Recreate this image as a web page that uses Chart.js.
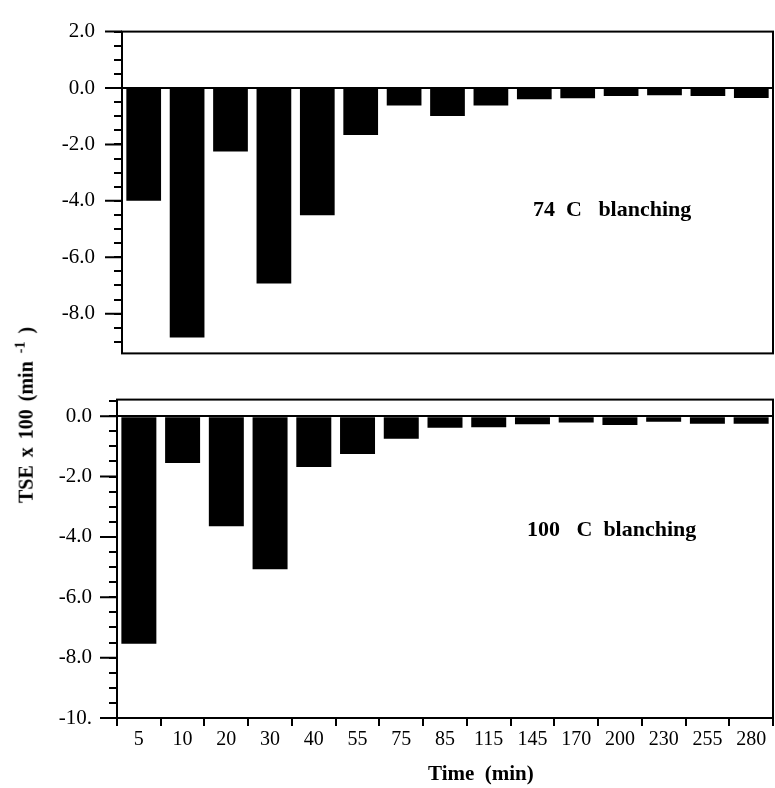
<!DOCTYPE html>
<html>
<head>
<meta charset="utf-8">
<script src="https://cdn.jsdelivr.net/npm/chart.js@4.4.1/dist/chart.umd.min.js"></script>
<style>
    html, body { margin: 0; padding: 0; background: #fff; }
    body { width: 775px; height: 788px; position: relative; overflow: hidden; }
    #wrap-top { position: absolute; left: 0; top: 0; }
    #wrap-bottom { position: absolute; left: 0; top: 370px; }
    #y-title {
        position: absolute; left: 25px; top: 415px;
        transform: translate(-50%, -50%) rotate(-90deg);
        font: bold 20px 'Liberation Serif', serif;
        white-space: nowrap; word-spacing: 3px; color: #000;
    }
    #y-title sup { font-size: 14px; }
</style>
</head>
<body>
<div id="wrap-top"><canvas id="chart-74" width="775" height="385"></canvas></div>
<div id="wrap-bottom"><canvas id="chart-100" width="775" height="418"></canvas></div>
<div id="y-title">TSE x 100 (min <sup>-1</sup> )</div>
<script>
// sampling times (min)
const timeLabels = ['5', '10', '20', '30', '40', '55', '75', '85', '115', '145', '170', '200', '230', '255', '280'];
// TSE x 100 (min^-1), 74 C blanching
const tse74 = [-4.0, -8.85, -2.25, -6.93, -4.51, -1.67, -0.62, -0.99, -0.62, -0.40, -0.36, -0.28, -0.26, -0.28, -0.35];
// TSE x 100 (min^-1), 100 C blanching
const tse100 = [-7.54, -1.55, -3.65, -5.07, -1.68, -1.25, -0.75, -0.38, -0.37, -0.27, -0.21, -0.29, -0.18, -0.25, -0.25];
const majorStep = 2;
const minorStep = 0.5;

const serif = "'Liberation Serif', 'Times New Roman', serif";

function tickText(v) {
    if (Math.abs(v % majorStep) > 1e-6) return '';
    if (v <= -10) return v.toFixed(0) + '.';
    return v.toFixed(1);
}

const framePlugin = {
    id: 'frame',
    afterDraw(chart, args, opts) {
        const ctx = chart.ctx;
        const a = chart.chartArea;
        const y = chart.scales.y;
        ctx.save();
        ctx.strokeStyle = '#000';
        ctx.lineWidth = 2;
        ctx.strokeRect(a.left, a.top, a.right - a.left, a.bottom - a.top);

        // longer marks for the labelled ticks
        ctx.beginPath();
        y.ticks.forEach(t => {
            if (Math.abs(t.value % majorStep) < 1e-6) {
                const py = y.getPixelForValue(t.value);
                ctx.moveTo(a.left - 17, py);
                ctx.lineTo(a.left, py);
            }
        });
        ctx.stroke();

        ctx.fillStyle = '#000';
        ctx.textBaseline = 'middle';
        ctx.textAlign = 'left';
        (opts.notes || []).forEach(n => {
            ctx.font = 'bold ' + (n.size || 22) + 'px ' + serif;
            ctx.fillText(n.text, n.x, n.y);
        });
        ctx.restore();
    }
};

function makeChart(id, values, yMin, yMax, opts) {
    const ctx = document.getElementById(id).getContext('2d');
    return new Chart(ctx, {
        type: 'bar',
        data: {
            labels: timeLabels,
            datasets: [{
                data: values,
                backgroundColor: '#000',
                borderWidth: 0,
                barPercentage: 0.8,
                categoryPercentage: 1.0
            }]
        },
        options: {
            responsive: false,
            animation: false,
            layout: { padding: opts.padding },
            plugins: {
                legend: { display: false },
                tooltip: { enabled: false },
                frame: { notes: opts.notes }
            },
            scales: {
                x: opts.xAxis,
                y: {
                    min: yMin,
                    max: yMax,
                    afterFit: s => { s.width = opts.yWidth; },
                    afterBuildTicks: s => { s.ticks = s.ticks.filter(t => t.value <= yMax + 1e-6); },
                    border: { display: true, color: '#000', width: 2 },
                    grid: {
                        drawOnChartArea: true,
                        color: c => (c.tick && c.tick.value === 0) ? '#000' : 'rgba(0,0,0,0)',
                        tickColor: '#000',
                        lineWidth: 2,
                        tickWidth: 2,
                        tickLength: 8
                    },
                    ticks: {
                        stepSize: minorStep,
                        includeBounds: false,
                        autoSkip: false,
                        padding: opts.yPad,
                        color: '#000',
                        font: { family: serif, size: 21 },
                        callback: v => tickText(v)
                    }
                }
            }
        },
        plugins: [framePlugin]
    });
}

makeChart('chart-74', tse74, -9.41, 2.0, {
    padding: { left: 0, top: 14, right: 2, bottom: 15 },
    yWidth: 122,
    yPad: 19,
    xAxis: { display: false, offset: true },
    notes: [{ text: '74  C   blanching', x: 533, y: 210 }]
});

makeChart('chart-100', tse100, -10, 0.55, {
    padding: { left: 0, top: 17, right: 2, bottom: 0 },
    yWidth: 117,
    yPad: 17,
    xAxis: {
        offset: true,
        afterFit: s => { s.height = 70; },
        border: { display: true, color: '#000', width: 2 },
        grid: {
            offset: true,
            drawOnChartArea: false,
            color: '#000',
            lineWidth: 2,
            tickLength: 8
        },
        ticks: {
            autoSkip: false,
            maxRotation: 0,
            padding: 2,
            color: '#000',
            font: { family: serif, size: 20 }
        }
    },
    notes: [
        { text: '100   C  blanching', x: 527, y: 160 },
        { text: 'Time  (min)', x: 428, y: 405, size: 21 }
    ]
});
</script>
</body>
</html>
